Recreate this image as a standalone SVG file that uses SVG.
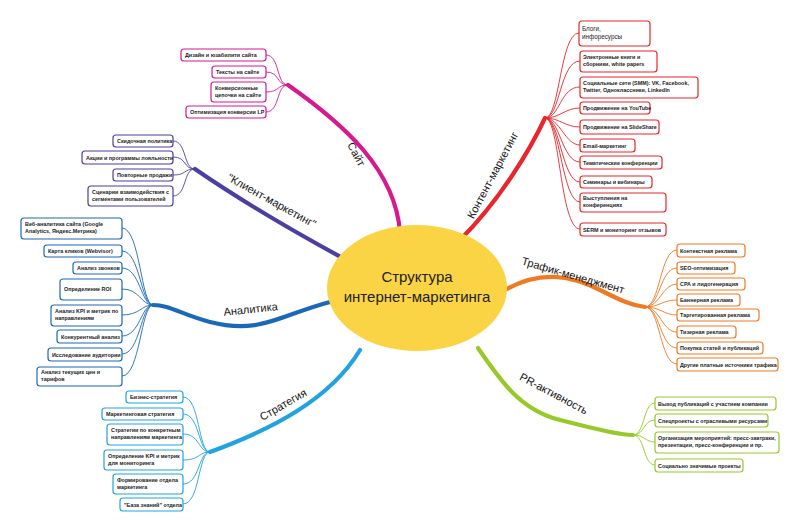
<svg xmlns="http://www.w3.org/2000/svg" width="800" height="532" viewBox="0 0 800 532">
<style>
.b rect{fill:#fff;stroke-width:1.2}
.b text{font-family:"Liberation Sans",Arial,sans-serif;font-weight:bold;font-size:5.4px;fill:#222}
.c path{fill:none;stroke-width:0.9}
.m{fill:none;stroke-linecap:round;stroke-width:4.2}
.lbl{font-family:"Liberation Sans",Arial,sans-serif;font-size:11px;fill:#111;text-anchor:middle}
.pk rect{stroke:#d6198f}.pu rect{stroke:#4b3fa0}.bl rect{stroke:#1c68b8}.lb rect{stroke:#22a3e0}.rd rect{stroke:#e8262b}.or rect{stroke:#ef7a24}.gr rect{stroke:#98c82a}
</style>
<rect width="800" height="532" fill="#fff"/>
<g id="connectors">
<path class="m" stroke="#d6198f" d="M400,232 C395,170 345,125 288,85"/>
<path class="m" stroke="#4b3fa0" d="M350,262 C300,235 240,200 195,169"/>
<path class="m" stroke="#1c68b8" d="M330,302 C280,315 260,335 210,322 C180,314 170,305 153,305"/>
<path class="m" stroke="#22a3e0" d="M360,350 C330,400 270,430 210,452"/>
<path class="m" stroke="#e8262b" d="M460,240 C500,200 530,150 545,118"/>
<path class="m" stroke="#ef7a24" d="M505,290 C540,270 570,275 600,290 C620,300 630,305 645,307"/>
<path class="m" stroke="#98c82a" d="M478,348 C500,380 520,410 560,420 C600,430 620,435 633,435"/>
<g class="c" stroke="#d6198f">
<path d="M288,85 C276,85 280,55 266,55"/><path d="M288,85 C276,85 280,72 266,72"/><path d="M288,85 C276,85 280,92 266,92"/><path d="M288,85 C276,85 280,112 266,112"/>
</g>
<g class="c" stroke="#4b3fa0">
<path d="M195,169 C183,169 187,141 173,141"/><path d="M195,169 C183,169 187,157 173,157"/><path d="M195,169 C183,169 187,175 173,175"/><path d="M195,169 C183,169 187,196 173,196"/>
</g>
<g class="c" stroke="#1c68b8">
<path d="M153,305 C141,305 140,228 122,228"/><path d="M153,305 C141,305 140,251 122,251"/><path d="M153,305 C141,305 140,268 122,268"/><path d="M153,305 C141,305 140,289 122,289"/><path d="M153,305 C141,305 140,315 122,315"/><path d="M153,305 C141,305 140,336 122,336"/><path d="M153,305 C141,305 140,354 122,354"/><path d="M153,305 C141,305 140,376 122,376"/>
</g>
<g class="c" stroke="#22a3e0">
<path d="M210,452 C198,452 200,397 183,397"/><path d="M210,452 C198,452 200,414 183,414"/><path d="M210,452 C198,452 200,434 183,434"/><path d="M210,452 C198,452 200,460 183,460"/><path d="M210,452 C198,452 200,484 183,484"/><path d="M210,452 C198,452 200,504 183,504"/>
</g>
<g class="c" stroke="#e8262b">
<path d="M545,118 C560,118 560,33 579,33"/><path d="M545,118 C560,118 560,61 580,61"/><path d="M545,118 C560,118 560,87 580,87"/><path d="M545,118 C560,118 565,108 580,108"/><path d="M545,118 C560,118 565,127 580,127"/><path d="M545,118 C560,118 565,145 580,145"/><path d="M545,118 C560,118 562,162 580,162"/><path d="M545,118 C560,118 562,182 580,182"/><path d="M545,118 C560,118 562,202 580,202"/><path d="M545,118 C560,118 560,229 580,229"/>
</g>
<g class="c" stroke="#ef7a24">
<path d="M645,307 C660,307 660,250 677,250"/><path d="M645,307 C660,307 660,268 677,268"/><path d="M645,307 C660,307 662,284 677,284"/><path d="M645,307 C660,307 662,300 677,300"/><path d="M645,307 C660,307 664,315 677,315"/><path d="M645,307 C660,307 662,332 677,332"/><path d="M645,307 C660,307 660,348 677,348"/><path d="M645,307 C660,307 660,364 677,364"/>
</g>
<g class="c" stroke="#98c82a">
<path d="M633,435 C645,435 643,403 655,403"/><path d="M633,435 C645,435 643,420 655,420"/><path d="M633,435 C645,435 645,442 655,442"/><path d="M633,435 C645,435 643,465 655,465"/>
</g>
</g>
<g id="center">
<ellipse cx="417" cy="288" rx="90" ry="63" fill="#fbd446"/>
<text x="417" y="282" font-family="Liberation Sans,Arial,sans-serif" font-size="15" text-anchor="middle" fill="#222">Структура</text>
<text x="417" y="302" font-family="Liberation Sans,Arial,sans-serif" font-size="15" text-anchor="middle" fill="#222">интернет-маркетинга</text>
</g>
<g id="labels">
<text class="lbl" transform="translate(353,156) rotate(62)">Сайт</text>
<text class="lbl" transform="translate(270,204) rotate(29)">"Клиент-маркетинг"</text>
<text class="lbl" transform="translate(251,313) rotate(-6)">Аналитика</text>
<text class="lbl" transform="translate(285,408) rotate(-30)">Стратегия</text>
<text class="lbl" transform="translate(496,177) rotate(-62)">Контент-маркетинг</text>
<text class="lbl" transform="translate(572,279) rotate(16)">Трафик-менеджмент</text>
<text class="lbl" transform="translate(552,397) rotate(28)">PR-активность</text>
</g>
<g id="site" class="b pk">
<rect x="181" y="49" width="85" height="12" rx="3"/><text x="185" y="57">Дизайн и юзабилити сайта</text>
<rect x="212" y="66" width="54" height="12" rx="3"/><text x="216" y="74">Тексты на сайте</text>
<rect x="211" y="82" width="55" height="20" rx="3"/><text x="215" y="90">Конверсионные</text><text x="215" y="97">цепочки на сайте</text>
<rect x="186" y="106" width="80" height="12" rx="3"/><text x="190" y="114">Оптимизация конверсии LP</text>
</g>
<g id="client" class="b pu">
<rect x="113" y="135" width="60" height="12" rx="3"/><text x="117" y="143">Скидочная политика</text>
<rect x="82" y="151" width="91" height="13" rx="3"/><text x="86" y="159.5">Акции и программы лояльности</text>
<rect x="113" y="169" width="60" height="12" rx="3"/><text x="117" y="177">Повторные продажи</text>
<rect x="88" y="186" width="85" height="20" rx="3"/><text x="92" y="194">Сценарии взаимодействия с</text><text x="92" y="201">сегментами пользователей</text>
</g>
<g id="analytics" class="b bl">
<rect x="21" y="218" width="101" height="21" rx="3"/><text x="25" y="226">Веб-аналитика сайта  (Google</text><text x="25" y="233">Analytics, Яндекс.Метрика)</text>
<rect x="44" y="245" width="78" height="12" rx="3"/><text x="48" y="253">Карта кликов (Webvisor)</text>
<rect x="73" y="262" width="49" height="12" rx="3"/><text x="77" y="270">Анализ звонков</text>
<rect x="60" y="279" width="62" height="21" rx="3"/><text x="64" y="291">Определение ROI</text>
<rect x="51" y="305" width="71" height="21" rx="3"/><text x="55" y="313">Анализ KPI и метрик по</text><text x="55" y="320">направлениям</text>
<rect x="57" y="330" width="65" height="13" rx="3"/><text x="61" y="338.5">Конкурентный анализ</text>
<rect x="48" y="348" width="74" height="13" rx="3"/><text x="52" y="356.5">Исследование аудитории</text>
<rect x="37" y="367" width="85" height="19" rx="3"/><text x="41" y="374">Анализ текущих цен и</text><text x="41" y="381">тарифов</text>
</g>
<g id="strategy" class="b lb">
<rect x="126" y="391" width="57" height="12" rx="3"/><text x="130" y="399">Бизнес-стратегия</text>
<rect x="102" y="408" width="81" height="12" rx="3"/><text x="106" y="416">Маркетинговая стратегия</text>
<rect x="107" y="424" width="76" height="21" rx="3"/><text x="111" y="432">Стратегии по конкретным</text><text x="111" y="439">направлениям маркетинга</text>
<rect x="104" y="450" width="79" height="20" rx="3"/><text x="108" y="458">Определение KPI и метрик</text><text x="108" y="465">для мониторинга</text>
<rect x="113" y="474" width="70" height="20" rx="3"/><text x="117" y="482">Формирование отдела</text><text x="117" y="489">маркетинга</text>
<rect x="120" y="498" width="63" height="13" rx="3"/><text x="124" y="506.5">"База знаний" отдела</text>
</g>
<g id="content" class="b rd">
<rect x="579" y="21" width="71" height="25" rx="3"/><text x="582" y="31" style="font-weight:normal;font-size:6.3px">Блоги,</text><text x="582" y="39" style="font-weight:normal;font-size:6.3px">инфоресурсы</text>
<rect x="580" y="51" width="77" height="21" rx="3"/><text x="583" y="59">Электронные книги и</text><text x="583" y="66">сборники, white papers</text>
<rect x="580" y="77" width="118" height="21" rx="3"/><text x="583" y="85">Социальные сети (SMM): VK, Facebook,</text><text x="583" y="92">Twitter, Одноклассники, LinkedIn</text>
<rect x="580" y="102" width="70" height="12" rx="3"/><text x="583" y="110">Продвижение на YouTube</text>
<rect x="580" y="120" width="79" height="14" rx="3"/><text x="583" y="129">Продвижение на SlideShare</text>
<rect x="580" y="139" width="55" height="13" rx="3"/><text x="583" y="147.5">Email-маркетинг</text>
<rect x="580" y="156" width="82" height="13" rx="3"/><text x="583" y="164.5">Тематические конференции</text>
<rect x="580" y="176" width="72" height="12" rx="3"/><text x="583" y="184">Семинары и вебинары</text>
<rect x="580" y="193" width="86" height="19" rx="3"/><text x="583" y="200">Выступления на</text><text x="583" y="207">конференциях</text>
<rect x="580" y="223" width="86" height="13" rx="3"/><text x="583" y="231.5">SERM и мониторинг отзывов</text>
</g>
<g id="traffic" class="b or">
<rect x="677" y="244" width="68" height="13" rx="3"/><text x="680" y="252.5">Контекстная реклама</text>
<rect x="677" y="262" width="58" height="12" rx="3"/><text x="680" y="270">SEO-оптимизация</text>
<rect x="677" y="278" width="68" height="12" rx="3"/><text x="680" y="286">CPA и лидогенерация</text>
<rect x="677" y="294" width="63" height="12" rx="3"/><text x="680" y="302">Баннерная реклама</text>
<rect x="677" y="309" width="82" height="12" rx="3"/><text x="680" y="317">Таргетированная реклама</text>
<rect x="677" y="326" width="59" height="12" rx="3"/><text x="680" y="334">Тизерная реклама</text>
<rect x="677" y="342" width="86" height="12" rx="3"/><text x="680" y="350">Покупка статей и публикаций</text>
<rect x="677" y="358" width="101" height="13" rx="3"/><text x="680" y="366.5">Другие платные источники трафика</text>
</g>
<g id="pr" class="b gr">
<rect x="655" y="397" width="121" height="13" rx="3"/><text x="658" y="405.5">Выход публикаций с участием компании</text>
<rect x="655" y="414" width="113" height="13" rx="3"/><text x="658" y="422.5">Спецпроекты с отраслевыми ресурсами</text>
<rect x="655" y="432" width="124" height="21" rx="3"/><text x="658" y="440">Организация мероприятий: пресс-завтраки,</text><text x="658" y="447">презентации, пресс-конференции и пр.</text>
<rect x="655" y="459" width="88" height="13" rx="3"/><text x="658" y="467.5">Социально значимые проекты</text>
</g>
</svg>
